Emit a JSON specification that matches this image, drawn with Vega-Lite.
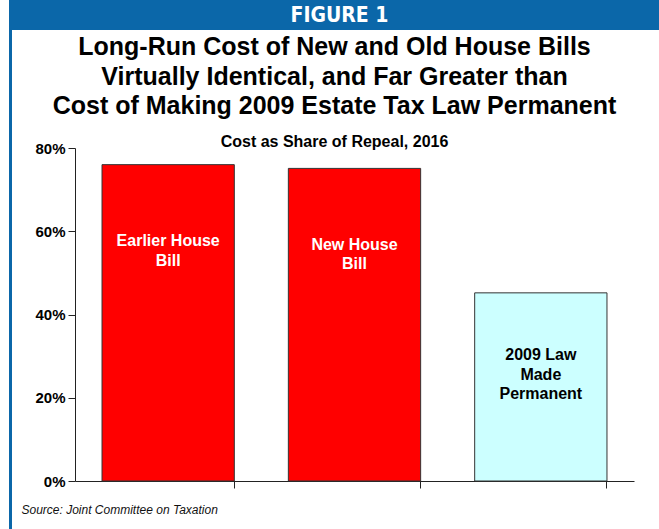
{
  "$schema": "https://vega.github.io/schema/vega-lite/v6.json",
  "padding": {"left": 9, "top": 0, "right": 0, "bottom": 0},
  "background": "white",
  "spacing": 0,
  "config": {
    "view": {"stroke": null},
    "font": "Liberation Sans"
  },
  "hconcat": [
    {
      "width": 3,
      "height": 529,
      "view": {"fill": "#0b67a9", "stroke": null},
      "data": {"values": [{"blank": ""}]},
      "mark": {"type": "text"},
      "encoding": {"text": {"field": "blank"}}
    },
    {
      "spacing": 5,
      "vconcat": [
        {
          "width": 647,
          "height": 30,
          "view": {"fill": "#0b67a9", "stroke": null},
          "data": {"values": [{"header": "FIGURE 1"}]},
          "mark": {"type": "text", "color": "white", "fontSize": 21, "fontWeight": "bold", "font": "DejaVu Sans Condensed", "baseline": "middle", "align": "center", "dy": 1, "dx": 4},
          "encoding": {"text": {"field": "header"}}
        },
        {
          "spacing": 62,
          "bounds": "flush",
          "hconcat": [
            {
              "width": 1,
              "height": 10,
              "data": {"values": [{"blank": ""}]},
              "mark": {"type": "text"},
              "encoding": {"text": {"field": "blank"}}
            },
            {
              "width": 559,
              "height": 333,
              "title": {
                "text": ["Long-Run Cost of New and Old House Bills", "Virtually Identical, and Far Greater than", "Cost of Making 2009 Estate Tax Law Permanent"],
                "subtitle": "Cost as Share of Repeal, 2016",
                "anchor": "middle",
                "dx": -20,
                "fontSize": 25,
                "fontWeight": "bold",
                "color": "black",
                "lineHeight": 29.5,
                "subtitleFontSize": 16,
                "subtitleFontWeight": "bold",
                "subtitleColor": "black",
                "subtitlePadding": 15,
                "offset": -9
              },
              "data": {"values": [
                {"bill": "Earlier House Bill", "share": 0.76, "label": ["Earlier House", "Bill"]},
                {"bill": "New House Bill", "share": 0.751, "label": ["New House", "Bill"]},
                {"bill": "2009 Law Made Permanent", "share": 0.452, "label": ["2009 Law", "Made", "Permanent"]}
              ]},
              "encoding": {
                "x": {
                  "field": "bill", "type": "nominal", "sort": null,
                  "scale": {"paddingInner": 0.29, "paddingOuter": 0.145},
                  "axis": {
                    "labels": false, "ticks": true, "bandPosition": 1, "tickSize": 7,
                    "tickColor": "#222", "domainColor": "#222",
                    "title": "Source: Joint Committee on Taxation",
                    "titleFontStyle": "italic", "titleFontWeight": "normal", "titleFontSize": 12,
                    "titleColor": "#111", "titleAnchor": "start", "titleAlign": "left",
                    "titleX": -54, "titleY": 32, "titleBaseline": "alphabetic"
                  }
                },
                "y": {
                  "field": "share", "type": "quantitative",
                  "scale": {"domain": [0, 0.8], "nice": false},
                  "axis": {
                    "values": [0, 0.2, 0.4, 0.6, 0.8], "format": ".0%", "grid": false,
                    "title": null, "tickSize": 7, "labelFontSize": 15, "labelFontWeight": "bold",
                    "labelColor": "black", "tickColor": "#222", "domainColor": "#222", "labelPadding": 3
                  }
                }
              },
              "layer": [
                {
                  "mark": {"type": "bar", "stroke": "#333", "strokeWidth": 1},
                  "encoding": {
                    "color": {
                      "field": "bill", "type": "nominal", "legend": null,
                      "scale": {"domain": ["Earlier House Bill", "New House Bill", "2009 Law Made Permanent"], "range": ["#ff0000", "#ff0000", "#ccffff"]}
                    }
                  }
                },
                {
                  "transform": [{"filter": "datum.bill !== '2009 Law Made Permanent'"}],
                  "mark": {"type": "text", "color": "white", "fontSize": 16, "fontWeight": "bold", "baseline": "top", "dy": 68.5, "lineHeight": 19.5},
                  "encoding": {"text": {"field": "label"}}
                },
                {
                  "transform": [{"filter": "datum.bill === '2009 Law Made Permanent'"}],
                  "mark": {"type": "text", "color": "black", "fontSize": 16, "fontWeight": "bold", "baseline": "top", "dy": 54.5, "lineHeight": 19.5},
                  "encoding": {"text": {"field": "label"}}
                }
              ]
            }
          ]
        }
      ]
    }
  ]
}
